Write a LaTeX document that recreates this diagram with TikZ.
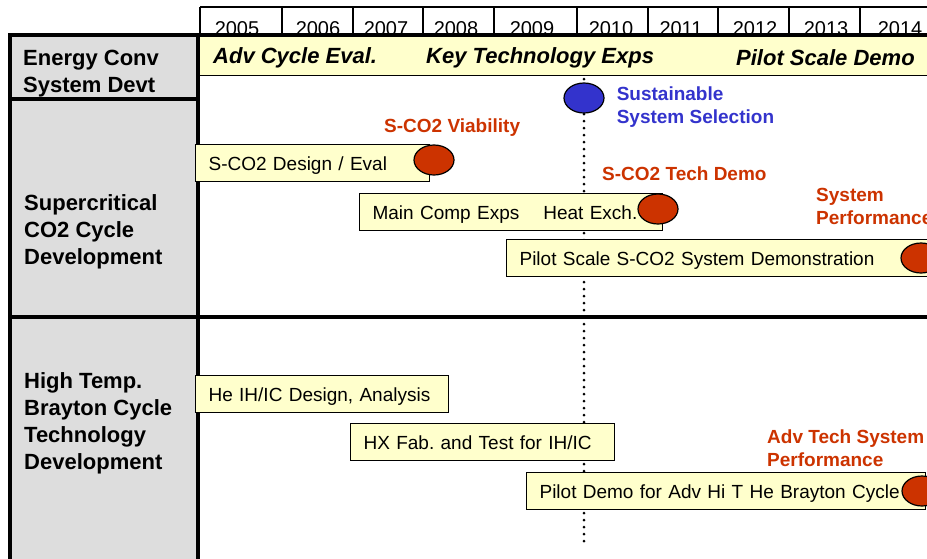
\documentclass[tikz,border=0pt]{standalone}
\usepackage{fontspec}
\setmainfont{Liberation Sans}
\frenchspacing
\usetikzlibrary{positioning}
\usetikzlibrary{shapes.geometric}
\pgfdeclarelayer{nodelayer}
\pgfdeclarelayer{edgelayer}
\pgfsetlayers{edgelayer,nodelayer,main}
\definecolor{barfill}{HTML}{FFFFCC}
\definecolor{rowgray}{HTML}{DDDDDD}
\definecolor{msred}{HTML}{CC3300}
\definecolor{msblue}{HTML}{3333CC}
\tikzset{
    bar/.style = {draw, fill=barfill, line width=1.2pt, anchor=north west, minimum height=37pt,
                  inner xsep=13pt, inner ysep=0pt, align=left, text height=17pt, text depth=2pt,
                  font=\fontsize{19}{23}\selectfont},
    milestone/.style = {ellipse, draw, line width=1.2pt, fill=msred, minimum width=40pt,
                        minimum height=30pt, inner sep=0pt},
    mslabel/.style = {anchor=west, inner sep=0pt, align=left, text=msred,
                      font=\bfseries\fontsize{19}{23}\selectfont},
    rowlabel/.style = {anchor=west, inner sep=0pt, align=left,
                       font=\bfseries\fontsize{22}{27}\selectfont},
    phase/.style = {anchor=west, inner sep=0pt, font=\bfseries\itshape\fontsize{22}{26}\selectfont},
    year/.style = {anchor=base, inner sep=0pt, font=\fontsize{20}{24}\selectfont},
    dotline/.style = {line width=3pt, line cap=round, dash pattern=on 0pt off 7pt}
}
\begin{document}
\begin{tikzpicture}[x=1pt, y=-1pt]
  \useasboundingbox (0,0) rectangle (927,558);
  \begin{pgfonlayer}{edgelayer}
    % year row
    \draw[line width=1.2pt] (200,7) -- (935,7);
    \foreach \x in {200,282,353,423,494,577,648,718,789,860}
      \draw[line width=1.2pt] (\x,7) -- (\x,35);
    \foreach \yr/\x in {2005/237, 2006/318, 2007/386, 2008/456, 2009/532,
                        2010/611, 2011/681, 2012/755, 2013/826, 2014/900}
      \node[year] (y\yr) at (\x,35) {\yr};
    % phase band
    \draw[fill=barfill, line width=0.8pt] (199,35) rectangle (935,75);
    % row headers
    \draw[fill=rowgray, line width=3.5pt] (10,35) rectangle (198,99);
    \draw[fill=rowgray, line width=3.5pt] (10,99) rectangle (198,317);
    \draw[fill=rowgray, line width=3.5pt] (10,317) rectangle (198,570);
    \draw[line width=3.5pt] (10,35) -- (935,35);
    \draw[line width=3.5pt] (198,317) -- (935,317);
    % decision line
    \coordinate (dtop) at (584,79);
    \coordinate (dbot) at (584,545);
    \draw[dotline] (dtop) -- (dbot);
  \end{pgfonlayer}
  \begin{pgfonlayer}{nodelayer}
    \node[bar, text width=208pt] (dsgn) at (195,144) {S-CO2 Design / Eval};
    \node[bar, text width=277pt] (mcomp) at (359,193) {Main Comp Exps\hspace{24pt}Heat Exch.};
    \node[bar, text width=403pt] (pilotsc) at (506,239) {Pilot Scale S-CO2 System Demonstration};
    \node[bar, text width=227pt] (heihic) at (195,375) {He IH/IC Design, Analysis};
    \node[bar, text width=238pt] (hxfab) at (350,423) {HX Fab. and Test for IH/IC};
    \node[bar, text width=373pt] (pilotdemo) at (526,472) {Pilot Demo for Adv Hi T He Brayton Cycle};
    \node[milestone] (msviab) at (434,160) {};
    \node[milestone] (mstech) at (658,209) {};
    \node[milestone] (mssys) at (921,258) {};
    \node[milestone] (msadv) at (922,491) {};
    \node[milestone, fill=msblue] (mssel) at (584,98) {};
  \end{pgfonlayer}
  % phases
  \node[phase] (padv) at (213,58) {Adv Cycle Eval.};
  \node[phase] (pkey) at (426,58) {Key Technology Exps};
  \node[phase] (ppil) at (736,58) {Pilot Scale Demo};
  % row headers
  \node[rowlabel] (recs) at (23,74) {Energy Conv\\System Devt};
  \node[rowlabel] (rsco) at (24,232) {Supercritical\\CO2 Cycle\\Development};
  \node[rowlabel] (rhtb) at (24,423) {High Temp.\\Brayton Cycle\\Technology\\Development};
  % milestones
  \node[mslabel, text=msblue, right=12pt of mssel, yshift=-9pt] (lsel) {Sustainable\\System Selection};
  \node[mslabel] (lviab) at (384,128) {S-CO2 Viability};
  \node[mslabel] (ltech) at (602,174) {S-CO2 Tech Demo};
  \node[mslabel] (lsys) at (816,206.5) {System\\Performance};
  \node[mslabel] (ladv) at (767,448) {Adv Tech System\\Performance};
\end{tikzpicture}
\end{document}
